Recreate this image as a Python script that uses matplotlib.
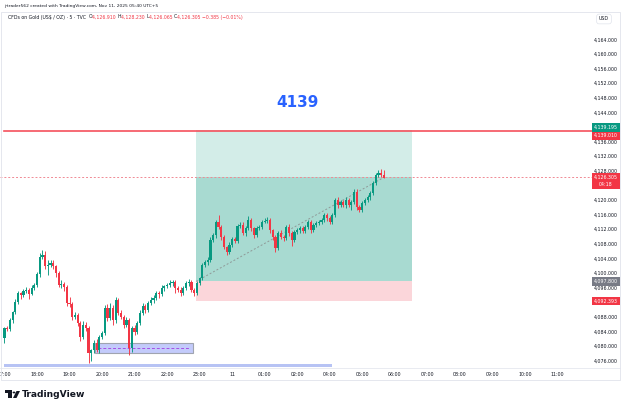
import matplotlib
matplotlib.use("Agg")
import matplotlib.pyplot as plt
import matplotlib.transforms as mtransforms
from matplotlib.patches import Rectangle, Polygon, Circle
import numpy as np

# ---------------- data ----------------
first_open = 4082.3
closes = [
    # 17:00 - 18:10
    4085.0, 4084.8, 4087.2, 4089.4, 4092.2, 4094.6, 4094.1, 4095.2, 4095.5, 4094.4,
    4096.0, 4096.8, 4099.8, 4104.5, 4105.0,
    # decline
    4102.0, 4102.3, 4102.8, 4102.0, 4100.1, 4096.8, 4097.0, 4096.3, 4091.9, 4091.6,
    4088.1, 4088.6, 4086.4, 4082.6, 4085.9, 4085.0, 4078.2,
    # base
    4079.0, 4080.9, 4079.0, 4082.6, 4083.7, 4090.5, 4087.8, 4090.5, 4087.2, 4092.7,
    4089.2, 4088.1, 4085.9, 4087.2, 4079.6,
    # recovery
    4085.0, 4084.0, 4086.4, 4089.2, 4091.1, 4090.0, 4091.9, 4092.7, 4093.3, 4094.6,
    4094.3, 4096.0, 4096.5, 4096.8, 4097.4, 4097.6, 4096.0, 4095.5, 4094.6, 4096.0,
    4097.4, 4097.6, 4095.5, 4094.6, 4097.4,
    # breakout
    4098.7, 4102.3, 4103.1, 4103.7, 4109.2, 4110.5, 4114.1, 4112.7, 4110.0, 4107.2,
    4105.9, 4107.8, 4109.4, 4109.0,
    # range
    4113.0, 4113.3, 4111.1, 4112.4, 4114.6, 4112.4, 4110.5, 4112.4, 4112.7, 4114.1,
    4114.4, 4114.6, 4111.9, 4110.0, 4107.0, 4111.1, 4110.0, 4109.7, 4112.7, 4111.1,
    4109.2, 4111.3, 4111.9, 4112.4, 4111.6, 4112.7, 4114.1,
    # final push
    4111.9, 4113.3, 4113.8, 4114.1, 4114.6, 4116.0, 4115.2, 4114.1, 4116.0, 4120.1,
    4118.7, 4119.6, 4118.7, 4120.1, 4118.7, 4119.6, 4122.3, 4118.2, 4117.4, 4119.3,
    4120.1, 4120.9, 4122.0, 4124.8, 4127.0, 4127.5, 4126.9, 4126.305,
]
upper_wick = [
    0.4, 0.5, 0.6, 0.4, 0.8, 0.5, 0.3, 0.6, 0.9, 0.4, 0.7, 0.5, 0.6, 1.0, 1.3,
    1.2, 1.5, 0.8, 0.9, 0.4, 0.6, 1.2, 0.7, 0.5, 1.5, 0.6, 0.9, 0.5, 0.6, 1.0, 0.8, 0.5,
    0.4, 0.8, 1.0, 0.6, 0.5, 0.8, 1.1, 1.4, 0.9, 0.7, 0.5, 0.9, 0.6, 0.8, 0.5,
    0.6, 0.8, 0.5, 0.7, 0.9, 0.6, 0.5, 0.8, 0.7, 0.5, 0.6, 0.9, 0.4, 0.6, 0.8, 0.5,
    0.7, 0.6, 0.8, 0.5, 0.6, 0.9, 0.5, 0.6, 0.5,
    0.4, 0.5, 0.6, 0.8, 0.7, 0.5, 0.6, 1.8, 0.5, 0.6, 0.4, 0.7, 0.5, 0.6,
    0.5, 0.8, 0.9, 0.6, 1.0, 0.5, 0.4, 0.7, 0.5, 0.6, 0.8, 0.9, 0.5, 0.4, 0.6, 0.5,
    0.7, 0.6, 0.5, 0.8, 0.4, 0.6, 0.5, 0.7, 0.5, 0.6, 0.5,
    0.5, 0.4, 0.6, 0.5, 0.7, 0.6, 0.5, 0.4, 0.6, 0.5, 0.8, 0.6, 0.5, 0.9, 0.6, 0.5,
    0.8, 0.7, 0.6, 0.4, 0.5, 0.6, 0.5, 0.4, 0.6, 0.8, 1.1, 1.3,
]
lower_wick = [
    1.4, 0.6, 0.5, 0.7, 0.4, 0.6, 1.2, 0.5, 0.7, 1.3, 0.4, 0.6, 0.5, 0.7, 0.6,
    0.8, 2.5, 0.6, 0.9, 1.0, 0.6, 0.8, 1.2, 0.9, 0.7, 1.0, 0.6, 0.8, 1.0, 0.7, 0.9, 2.7,
    2.2, 0.9, 0.6, 0.8, 0.5, 0.7, 0.9, 0.6, 1.2, 0.8, 0.6, 0.7, 0.9, 0.5, 2.0,
    1.0, 0.9, 0.6, 0.5, 0.7, 0.9, 0.6, 0.5, 0.8, 0.6, 1.1, 0.5, 0.7, 0.6, 0.5, 0.8,
    1.4, 0.7, 0.9, 0.5, 0.6, 0.8, 0.7, 0.9, 0.6,
    0.5, 0.6, 0.5, 0.8, 0.6, 0.5, 0.7, 0.5, 0.8, 0.6, 0.9, 0.7, 0.5, 0.6,
    0.6, 0.5, 0.7, 0.9, 0.5, 0.8, 0.7, 0.5, 0.6, 0.5, 0.4, 0.6, 0.7, 0.8, 1.2, 0.6,
    0.7, 0.9, 0.5, 0.8, 1.6, 0.6, 0.5, 0.7, 0.6, 0.5, 0.6,
    0.7, 0.5, 0.6, 0.5, 0.6, 0.5, 0.8, 0.7, 0.5, 0.6, 0.7, 0.5, 0.6, 0.8, 0.5, 1.3,
    0.7, 0.9, 0.6, 0.5, 0.6, 0.5, 0.7, 0.6, 0.5, 0.5, 0.4, 0.2,
]
time_ticks = [0, 12, 24, 36, 48, 60, 72, 84, 96, 108, 120, 132, 144, 156, 168, 180, 192, 204]
time_labels = ["17:00", "18:00", "19:00", "20:00", "21:00", "22:00", "23:00", "11",
               "01:00", "02:00", "04:00", "05:00", "06:00", "07:00", "08:00",
               "09:00", "10:00", "11:00"]
price_ticks = list(range(4076, 4165, 4))
hidden_ticks = [4092, 4124, 4140]

target_price = 4139.195
level_price = 4139.010
entry_price = 4097.800
stop_price = 4092.393
last_price = 4126.305
countdown = "04:18"
box_start, box_end = 70.7, 150.4
zone_lo, zone_hi, zone_mid = 4078.2, 4080.9, 4079.6
zone_start, zone_end = 33.4, 69.6
band_lo, band_hi = 4074.35, 4075.1
band_start, band_end = -0.2, 120.8
annotation = "4139"
annot_x, annot_y = 108, 4146.7

# ---------------- figure ----------------
W, H = 625, 407
fig = plt.figure(figsize=(W / 100, H / 100), dpi=100)
fig.patch.set_facecolor("white")

def fx(px):
    return px / W

def fy(py):
    return 1 - py / H

GREEN = "#089981"
RED = "#F23645"
TXT = "#131722"
FONT = "DejaVu Sans"

pane_l, pane_r, pane_t, pane_b = 0, 592, 12, 368
ax = fig.add_axes([fx(pane_l), fy(pane_b), fx(pane_r - pane_l), (pane_b - pane_t) / H])
ax.set_xlim(-1.66, 216.8)
ax.set_ylim(4076 - 7 / 3.65, 4076 + 349 / 3.65)
ax.set_axis_off()

closes_a = np.array(closes)
opens = np.concatenate([[first_open], closes_a[:-1]])
highs = np.maximum(opens, closes_a) + np.array(upper_wick)
lows = np.minimum(opens, closes_a) - np.array(lower_wick)
idx = np.arange(len(closes_a))
up = closes_a >= opens
colors = np.where(up, GREEN, RED)

# position tool
ax.add_patch(Rectangle((box_start, entry_price), box_end - box_start, target_price - entry_price,
                       facecolor="#d3ede8", edgecolor="none", zorder=1))
ax.add_patch(Rectangle((box_start, entry_price), box_end - box_start, last_price - entry_price,
                       facecolor="#a8dad1", edgecolor="none", zorder=1.1))
ax.add_patch(Rectangle((box_start, stop_price), box_end - box_start, entry_price - stop_price,
                       facecolor="#fbd6da", edgecolor="none", zorder=1))
ax.plot([box_start, idx[-1]], [entry_price, last_price], color="#8f9a98", lw=0.7,
        ls=(0, (2, 2)), zorder=1.5)

# level line & current price
ax.plot([-0.2, 216.8], [level_price, level_price], color="#F5505C", lw=1.2, zorder=2)
ax.axhline(last_price, color="#f08a94", lw=0.7, ls=(0, (2, 2)), zorder=2)

# zones
ax.add_patch(Rectangle((zone_start, zone_lo), zone_end - zone_start, zone_hi - zone_lo,
                       facecolor="#c3cbfb", edgecolor="#a0a4b0", lw=0.8, zorder=1))
ax.plot([zone_start + 1, zone_end - 1], [zone_mid, zone_mid], color="#a64fe6", lw=0.7,
        ls=(0, (3, 2)), zorder=1.2)
ax.add_patch(Rectangle((band_start, band_lo), band_end - band_start, band_hi - band_lo,
                       facecolor="#b7c3f4", edgecolor="none", zorder=1))

# candles
ax.vlines(idx, lows, highs, colors=colors, lw=0.65, zorder=3)
ax.bar(idx, np.abs(closes_a - opens) + 0.15, bottom=np.minimum(opens, closes_a) - 0.075,
       width=0.8, color=colors, zorder=4, linewidth=0)

ax.text(annot_x, annot_y, annotation, color="#2962FF", fontsize=11, fontweight="bold",
        ha="center", va="center", family=FONT, zorder=5)

# ---------------- price scale ----------------
tr = mtransforms.blended_transform_factory(fig.transFigure, ax.transData)
for p in price_ticks:
    if p in hidden_ticks:
        continue
    ax.text(fx(606), p, f"{p:,.3f}", transform=tr, ha="center", va="center",
            fontsize=3.4, color=TXT, family=FONT, clip_on=False)

def tag(price, text, bg):
    ax.text(fx(606), price, text, transform=tr, ha="center", va="center", fontsize=3.4,
            color="white", family=FONT, clip_on=False,
            bbox=dict(boxstyle="square,pad=0.35", facecolor=bg, edgecolor="none"))

tag(target_price + 0.8, f"{target_price:,.3f}", GREEN)
tag(level_price - 1.3, f"{level_price:,.3f}", RED)
tag(entry_price, f"{entry_price:,.3f}", "#787b86")
tag(stop_price, f"{stop_price:,.3f}", RED)
ax.text(fx(606), last_price - 1.0, f"{last_price:,.3f}\n{countdown}", transform=tr,
        ha="center", va="center", fontsize=3.4, color="white", family=FONT, clip_on=False,
        linespacing=1.5, bbox=dict(boxstyle="square,pad=0.4", facecolor=RED, edgecolor="none"))
fig.text(fx(599), fy(19), "USD", fontsize=3.4, color=TXT, family=FONT, va="center", ha="left",
         bbox=dict(boxstyle="round,pad=0.5", facecolor="white", edgecolor="#e0e3eb", lw=0.5))

# ---------------- time scale ----------------
trx = mtransforms.blended_transform_factory(ax.transData, fig.transFigure)
for t, lab in zip(time_ticks, time_labels):
    ax.text(t, fy(374), lab, transform=trx, ha="center", va="center", fontsize=3.4,
            color=TXT, family=FONT, clip_on=False)

# frame
fig.add_artist(Rectangle((fx(0.5), fy(380)), fx(619.5), (380 - 12) / H, transform=fig.transFigure,
                         facecolor="none", edgecolor="#e0e3eb", lw=0.6))
fig.add_artist(plt.Line2D([fx(0), fx(620)], [fy(368), fy(368)], transform=fig.transFigure,
                          color="#e0e3eb", lw=0.5))

# ---------------- header ----------------
fig.text(fx(4), fy(6), "jrtrader562 created with TradingView.com, Nov 11, 2025 05:40 UTC+5",
         fontsize=3.2, color=TXT, family=FONT, va="center", ha="left")

renderer = fig.canvas.get_renderer()
pieces = [("CFDs on Gold (US$ / OZ) · 5 · TVC  ", TXT), ("O", TXT), ("4,126.910 ", RED),
          ("H", TXT), ("4,128.230 ", RED), ("L", TXT), ("4,126.065 ", RED), ("C", TXT),
          ("4,126.305 ", RED), ("−0.385 (−0.01%)", RED)]
xpos = 8
for s, c in pieces:
    t = fig.text(fx(xpos), fy(17), s, fontsize=3.35, color=c, family=FONT, va="center", ha="left")
    bb = t.get_window_extent(renderer=renderer)
    xpos += bb.width

# ---------------- TradingView logo ----------------
logo_y = 394
fig.add_artist(Rectangle((fx(5), fy(logo_y - 1.5)), fx(6.5), 3 / H, transform=fig.transFigure,
                         facecolor="#131722", edgecolor="none"))
fig.add_artist(Rectangle((fx(8), fy(logo_y + 4)), fx(3.5), 7 / H, transform=fig.transFigure,
                         facecolor="#131722", edgecolor="none"))
fig.add_artist(Circle((fx(14), fy(logo_y - 1.5)), 1.4 / W, transform=fig.transFigure,
                      facecolor="#131722", edgecolor="none"))
fig.add_artist(Polygon([(fx(16.5), fy(logo_y - 3)), (fx(20), fy(logo_y - 3)),
                        (fx(16.5), fy(logo_y + 4)), (fx(13), fy(logo_y + 4))],
                       closed=True, transform=fig.transFigure, facecolor="#131722",
                       edgecolor="none"))
fig.text(fx(22), fy(logo_y + 0.5), "TradingView", fontsize=6.6, fontweight="bold", color="#131722",
         family=FONT, va="center", ha="left")

fig.savefig("out.png", dpi=100, facecolor="white")
